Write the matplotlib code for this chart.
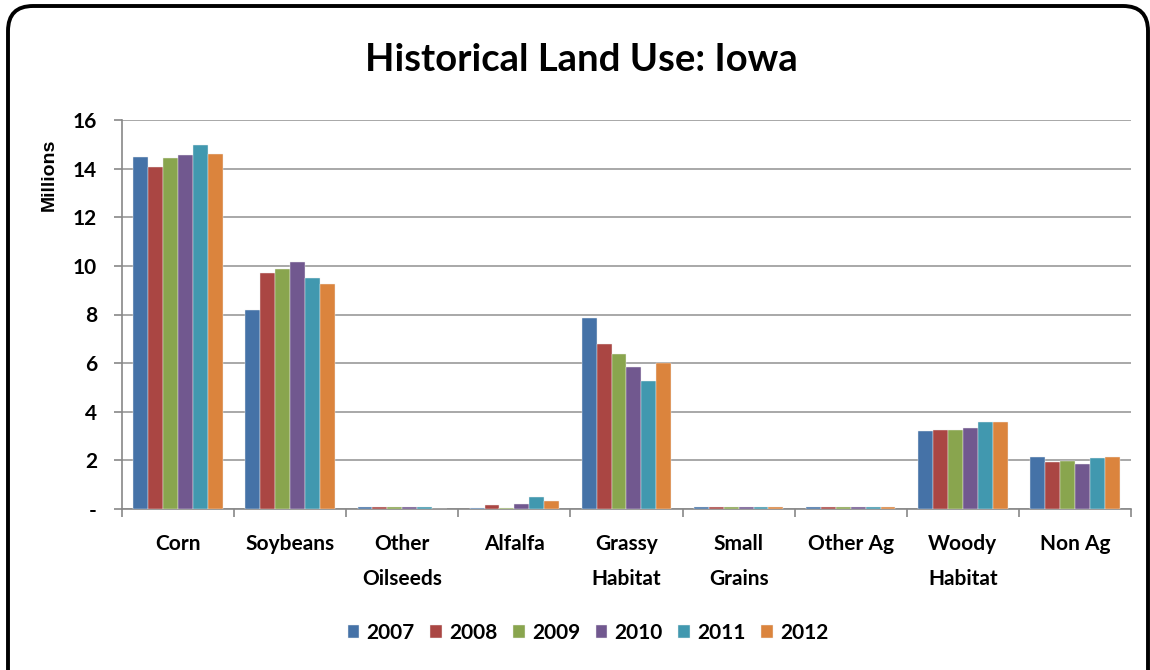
import numpy as np
import matplotlib.pyplot as plt
from matplotlib.patches import FancyBboxPatch
from matplotlib.transforms import IdentityTransform
from matplotlib.ticker import FuncFormatter

categories = ['Corn', 'Soybeans', 'Other\nOilseeds', 'Alfalfa', 'Grassy\nHabitat',
              'Small\nGrains', 'Other Ag', 'Woody\nHabitat', 'Non Ag']
years = ['2007', '2008', '2009', '2010', '2011', '2012']

# millions of acres
v2007 = [14.49, 8.17, 0.08, 0.06, 7.86, 0.08, 0.08, 3.21, 2.14]
v2008 = [14.05, 9.72, 0.08, 0.16, 6.80, 0.08, 0.08, 3.25, 1.92]
v2009 = [14.43, 9.89, 0.08, 0.06, 6.36, 0.08, 0.08, 3.25, 1.99]
v2010 = [14.54, 10.16, 0.08, 0.20, 5.86, 0.08, 0.08, 3.32, 1.86]
v2011 = [14.97, 9.52, 0.08, 0.48, 5.27, 0.08, 0.08, 3.58, 2.08]
v2012 = [14.60, 9.25, 0.00, 0.33, 6.00, 0.08, 0.08, 3.58, 2.15]
series = [v2007, v2008, v2009, v2010, v2011, v2012]

colors = ['#4572A7', '#AA4643', '#89A54E', '#71588F', '#4198AF', '#DB843D']
FONT = 'Lato'

fig = plt.figure(figsize=(11.5, 6.7), dpi=100)
ax = fig.add_axes([122/1150, 1-509/670, 1009/1150, 389/670])

# rounded frame round the whole chart (pixel coords)
frame = FancyBboxPatch((8, -40), 1140, 704,
                       boxstyle='round,pad=0,rounding_size=25',
                       transform=IdentityTransform(), facecolor='white',
                       edgecolor='black', linewidth=2.8, zorder=-10)
fig.patches.append(frame)

x = np.arange(len(categories))
bar_width = 0.133
for i in range(len(series)):
    ax.bar(x + (i - 2.5)*bar_width, series[i], bar_width, color=colors[i],
           edgecolor='#f0f0f0', linewidth=0.3, label=years[i], zorder=3)

ax.set_xlim(-0.5, len(categories)-0.5)
ax.set_ylim(0, 16)
ax.set_yticks(np.arange(0, 17, 2))
ax.yaxis.set_major_formatter(FuncFormatter(lambda v, p: '-' if v == 0 else '%d' % v))
ax.set_xticks(x)
ax.set_xticklabels(categories, fontsize=15, fontname=FONT, fontweight='bold', va='top',
                   linespacing=1.95)
ax.set_xticks(np.arange(-0.5, len(categories), 1), minor=True)
ax.tick_params(axis='x', which='major', length=0, pad=18)
ax.tick_params(axis='x', which='minor', length=6, color='#888888', width=1.2)
ax.tick_params(axis='y', length=6, color='#888888', width=1.2, pad=12)
for lab in ax.get_yticklabels():
    lab.set_fontsize(15)
    lab.set_fontname(FONT)
    lab.set_fontweight('bold')

ax.grid(axis='y', color='#999999', linewidth=1.2, zorder=0)
ax.spines['right'].set_visible(False)
ax.spines['top'].set_visible(False)
ax.spines['left'].set_color('#888888')
ax.spines['bottom'].set_color('#888888')
ax.spines['left'].set_linewidth(1.2)
ax.spines['bottom'].set_linewidth(1.2)

ax.set_ylabel('Millions', fontsize=14, fontweight='bold', fontname='Liberation Sans')
ax.yaxis.set_label_coords(-0.064, 0.86)

fig.text(581/1150, 1-60/670, 'Historical Land Use: Iowa', ha='center', va='center',
         fontsize=27.5, fontname=FONT, fontweight='bold')

leg = fig.legend(loc='center', bbox_to_anchor=(588/1150, 1-633/670), ncol=6, frameon=False,
                 prop={'family': FONT, 'weight': 'bold', 'size': 15},
                 handlelength=0.55, handleheight=0.55, handletextpad=0.35, columnspacing=0.75)

plt.savefig('out.png', dpi=100)
plt.close('all')
